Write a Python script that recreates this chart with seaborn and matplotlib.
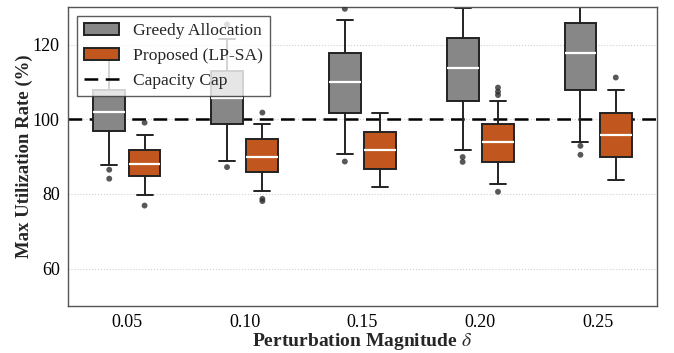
import numpy as np
import pandas as pd
import seaborn as sns
import matplotlib.pyplot as plt
from matplotlib.patches import Patch
from matplotlib.lines import Line2D

# ---- data ----
deltas = ["0.05", "0.10", "0.15", "0.20", "0.25"]
methods = ["Greedy Allocation", "Proposed (LP-SA)"]

greedy_whislo = [87.8, 88.9, 90.7, 91.8, 93.9]
greedy_q1 = [96.9, 98.7, 101.8, 104.9, 107.8]
greedy_med = [101.9, 105.8, 109.9, 113.7, 117.8]
greedy_q3 = [107.8, 112.9, 117.8, 121.7, 125.7]
greedy_whishi = [117.0, 121.6, 126.7, 129.8, 134.0]
greedy_outliers = [[86.5, 84.1], [87.2, 125.4], [88.7, 129.6], [89.9, 88.6], [92.9, 90.5]]

proposed_whislo = [79.8, 80.9, 81.8, 82.8, 83.7]
proposed_q1 = [84.7, 85.8, 86.7, 88.7, 89.9]
proposed_med = [88.0, 89.8, 91.8, 93.8, 95.8]
proposed_q3 = [91.8, 94.7, 96.7, 98.8, 101.7]
proposed_whishi = [95.8, 98.7, 101.8, 104.8, 107.9]
proposed_outliers = [[99.1, 76.9], [101.8, 78.7, 78.1], [], [108.5, 107.4, 106.5, 80.6], [111.2]]

capacity_cap = 100
y_ticks = [60, 80, 100, 120]

# ---- build tables ----
rows = []
for m, lo, q1, md, q3, hi in [
    (methods[0], greedy_whislo, greedy_q1, greedy_med, greedy_q3, greedy_whishi),
    (methods[1], proposed_whislo, proposed_q1, proposed_med, proposed_q3, proposed_whishi),
]:
    for i, d in enumerate(deltas):
        for v in (lo[i], q1[i], md[i], q3[i], hi[i]):
            rows.append({"delta": d, "method": m, "value": v})
df = pd.DataFrame(rows)

box_width = 0.6
out_rows = []
for k, (m, outs) in enumerate([(methods[0], greedy_outliers), (methods[1], proposed_outliers)]):
    offset = (k - 0.5) * box_width / 2
    for i, vals in enumerate(outs):
        for v in vals:
            out_rows.append({"x": i + offset, "value": v, "method": m})
out_df = pd.DataFrame(out_rows)

# ---- style ----
sns.set_theme(style="white")
plt.rcParams["font.family"] = ["Liberation Serif", "DejaVu Serif"]
plt.rcParams["mathtext.fontset"] = "stix"

gray = "#878787"
orange = "#C1561F"
edge = "#222222"

fig = plt.figure(figsize=(6.74, 3.53), dpi=100)
ax = fig.add_axes([0.1009, 0.1331, 0.8739, 0.8462])

ax.set_axisbelow(True)
ax.yaxis.grid(True, linestyle=":", color="#cfcfcf", linewidth=0.8)
ax.axhline(capacity_cap, color="black", linestyle=(0, (5.5, 3)), linewidth=1.8, zorder=1)

sns.boxplot(data=df, x="delta", y="value", hue="method", order=deltas, hue_order=methods,
            palette=[gray, orange], width=box_width, gap=0.1, whis=(0, 100),
            linewidth=1.4, linecolor=edge, saturation=1,
            medianprops=dict(color="white", linewidth=1.6),
            legend=False, ax=ax)

sns.scatterplot(data=out_df, x="x", y="value", color="#2e2e2e", alpha=0.8, s=18,
                edgecolor="none", legend=False, ax=ax, zorder=4)

ax.set_xlim(-0.5, len(deltas) - 0.5)
ax.set_ylim(50, 130)
ax.set_yticks(y_ticks)
ax.set_xticks(range(len(deltas)))
ax.set_xticklabels(deltas)
ax.tick_params(axis="both", labelsize=13, length=3, width=0.8, color="#444444",
               labelcolor="black", pad=3)
for s in ax.spines.values():
    s.set_color("#555555")
    s.set_linewidth(1.0)

ax.set_xlabel(r"Perturbation Magnitude $\delta$", fontsize=14, fontweight="bold", labelpad=0)
ax.set_ylabel("Max Utilization Rate (%)", fontsize=13.5, fontweight="bold", labelpad=0)

handles = [
    Patch(facecolor=gray, edgecolor=edge, linewidth=1.4, label=methods[0]),
    Patch(facecolor=orange, edgecolor=edge, linewidth=1.4, label=methods[1]),
    Line2D([], [], color="black", linestyle=(0, (5.5, 3)), linewidth=1.8, label="Capacity Cap"),
]
leg = ax.legend(handles=handles, loc="upper left", fontsize=12.6, frameon=True, fancybox=False,
                framealpha=0.8, edgecolor="#333333")
leg.get_frame().set_linewidth(1.0)

fig.savefig("out.png", dpi=100)
